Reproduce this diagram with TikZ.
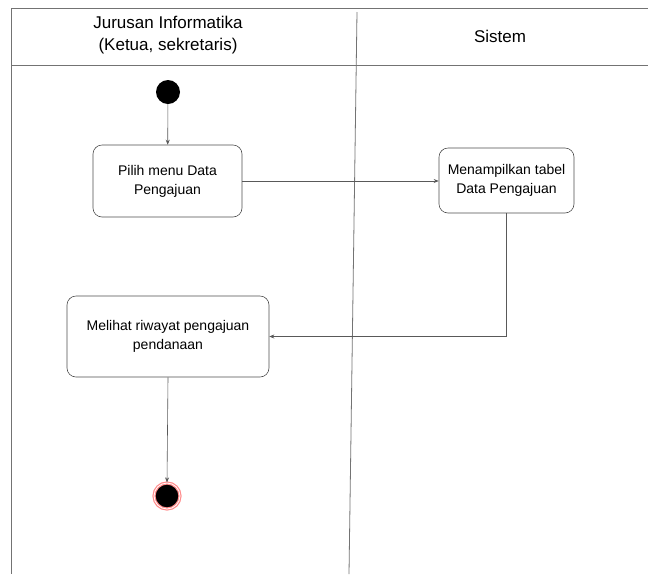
\documentclass[tikz,border=0pt]{standalone}
\usepackage{fontspec}
\setmainfont{Liberation Sans}
\usetikzlibrary{arrows.meta}
\begin{document}
\begin{tikzpicture}[x=1pt,y=-1pt,
  lane/.style={draw=black!55, line width=0.8pt},
  act/.style={draw=black!70, line width=0.6pt, rounded corners=9pt, align=center, font=\fontsize{14}{19}\selectfont, inner sep=0pt},
  flow/.style={draw=black!65, line width=0.6pt, -{Stealth[length=5pt,width=4pt]}},
  hdr/.style={align=center, font=\fontsize{17}{22}\selectfont}]
\useasboundingbox (0,0) rectangle (648,574);
% swimlane frame
\draw[lane] (648,8) -- (11,8) -- (11,574);
\draw[lane] (11,65) -- (648,65);
\draw[lane] (357,12) -- (349,574);
\node[hdr] (h1) at (168,35) {Jurusan Informatika\\(Ketua, sekretaris)};
\node[hdr] (h2) at (500,36) {Sistem};
% nodes
\node[circle, fill=black, minimum size=24pt, inner sep=0pt] (start) at (168,92) {};
\node[act, minimum width=149pt, minimum height=72pt] (a1) at (167.5,181) {Pilih menu Data\\Pengajuan};
\node[act, minimum width=135pt, minimum height=65pt] (a2) at (506.5,180.5) {Menampilkan tabel\\Data Pengajuan};
\node[act, minimum width=202pt, minimum height=81pt] (a3) at (168,336.5) {Melihat riwayat pengajuan\\pendanaan};
\node[circle, fill=black, draw=red!45, line width=1.2pt, double=white, double distance=0.8pt, minimum size=26pt, inner sep=0pt] (end) at (167,496) {};
% flows
\draw[flow] (start) -- (a1);
\draw[flow] (a1.east) -- (a2.west |- a1.east);
\draw[flow] (a2.south) |- (a3.east);
\draw[flow] (a3.south) -- (end.north);
\end{tikzpicture}
\end{document}
